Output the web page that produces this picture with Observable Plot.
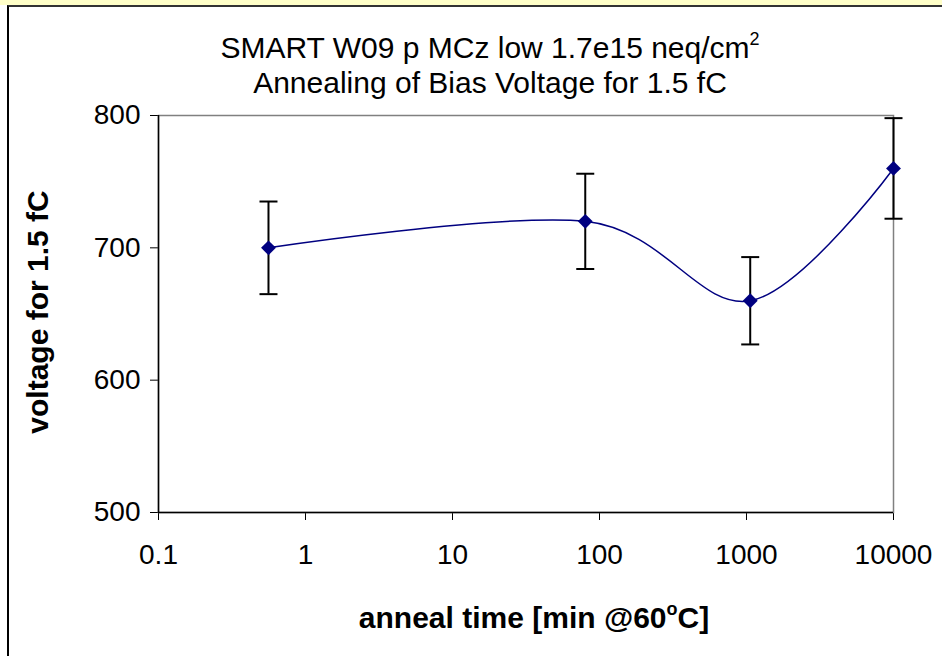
<!DOCTYPE html>
<html><head><meta charset="utf-8">
<script src="https://cdn.jsdelivr.net/npm/d3@7"></script>
<script src="https://cdn.jsdelivr.net/npm/@observablehq/plot@0.6"></script>
<style>
html,body{margin:0;padding:0;background:#fff;}
body{width:942px;height:656px;overflow:hidden;position:relative;font-family:"Liberation Sans",Arial,sans-serif;}
#strip{position:absolute;left:0;top:0;width:942px;height:5px;background:#ffffc8;}
#sheet{position:absolute;left:7px;top:5px;width:1000px;height:700px;background:#fff;border-left:2px solid #000;border-top:2px solid #333;}
#chart{position:absolute;left:0;top:0;}
.t{position:absolute;white-space:nowrap;color:#000;}
sup{font-size:0.6em;line-height:0;vertical-align:0;position:relative;top:-0.75em;}
</style></head><body>
<div id="strip"></div>
<div id="sheet"></div>
<div id="chart"></div>
<div class="t" style="left:0;width:980px;top:30px;text-align:center;font-size:30px;line-height:35px;">SMART W09 p MCz low 1.7e15 neq/cm<sup>2</sup><br>Annealing of Bias Voltage for 1.5 fC</div>
<div class="t" style="left:534px;top:603px;transform:translateX(-50%);font-size:30px;line-height:30px;font-weight:bold;">anneal time [min @60<sup>o</sup>C]</div>
<div class="t" style="left:38px;top:312px;transform:translate(-50%,-50%) rotate(-90deg);font-size:30px;line-height:30px;font-weight:bold;">voltage for 1.5 fC</div>
<script>
// Data
const times = [0.56, 80, 1060, 10000];      // anneal time [min @60°C]
const voltages = [700, 720, 660, 760];      // voltage for 1.5 fC
const errors = [35, 36, 33, 38];            // error bar half-heights
const xTicks = [0.1, 1, 10, 100, 1000, 10000];
const yTicks = [500, 600, 700, 800];
const xDomain = [0.1, 10000];
const yDomain = [500, 800];

const data = times.map((t, i) => ({t, v: voltages[i], e: errors[i]}));

const capSymbol = {
  draw(context, size) {
    const w = 9;
    context.moveTo(-w, 0);
    context.lineTo(w, 0);
  }
};

const chart = Plot.plot({
  width: 942,
  height: 656,
  marginLeft: 158,
  marginRight: 49,
  marginTop: 115,
  marginBottom: 144,
  style: {background: "transparent", fontFamily: "'Liberation Sans', Arial, sans-serif", fontSize: "28px", color: "#000", overflow: "visible"},
  x: {type: "log", domain: xDomain, ticks: xTicks, tickFormat: d => String(d), tickSize: 8, tickPadding: 24, label: null},
  y: {domain: yDomain, ticks: yTicks, tickSize: 8, tickPadding: 10, label: null},
  marks: [
    Plot.frame({stroke: "#808080", strokeWidth: 1.5}),
    Plot.ruleX([xDomain[0]], {stroke: "#000", strokeWidth: 1.5}),
    Plot.ruleY([yDomain[0]], {stroke: "#000", strokeWidth: 1.5}),
    Plot.ruleX(data, {x: "t", y1: d => d.v - d.e, y2: d => d.v + d.e, stroke: "#000", strokeWidth: 2}),
    Plot.dot(data, {x: "t", y: d => d.v + d.e, symbol: capSymbol, stroke: "#000", strokeWidth: 2, fill: "none", r: 5}),
    Plot.dot(data, {x: "t", y: d => d.v - d.e, symbol: capSymbol, stroke: "#000", strokeWidth: 2, fill: "none", r: 5}),
    Plot.line(data, {x: "t", y: "v", curve: "cardinal", stroke: "#000080", strokeWidth: 1.5}),
    Plot.dot(data, {x: "t", y: "v", symbol: "diamond2", r: 6.7, fill: "#000080", stroke: "none"})
  ]
});
document.getElementById("chart").appendChild(chart);
</script>
</body></html>
